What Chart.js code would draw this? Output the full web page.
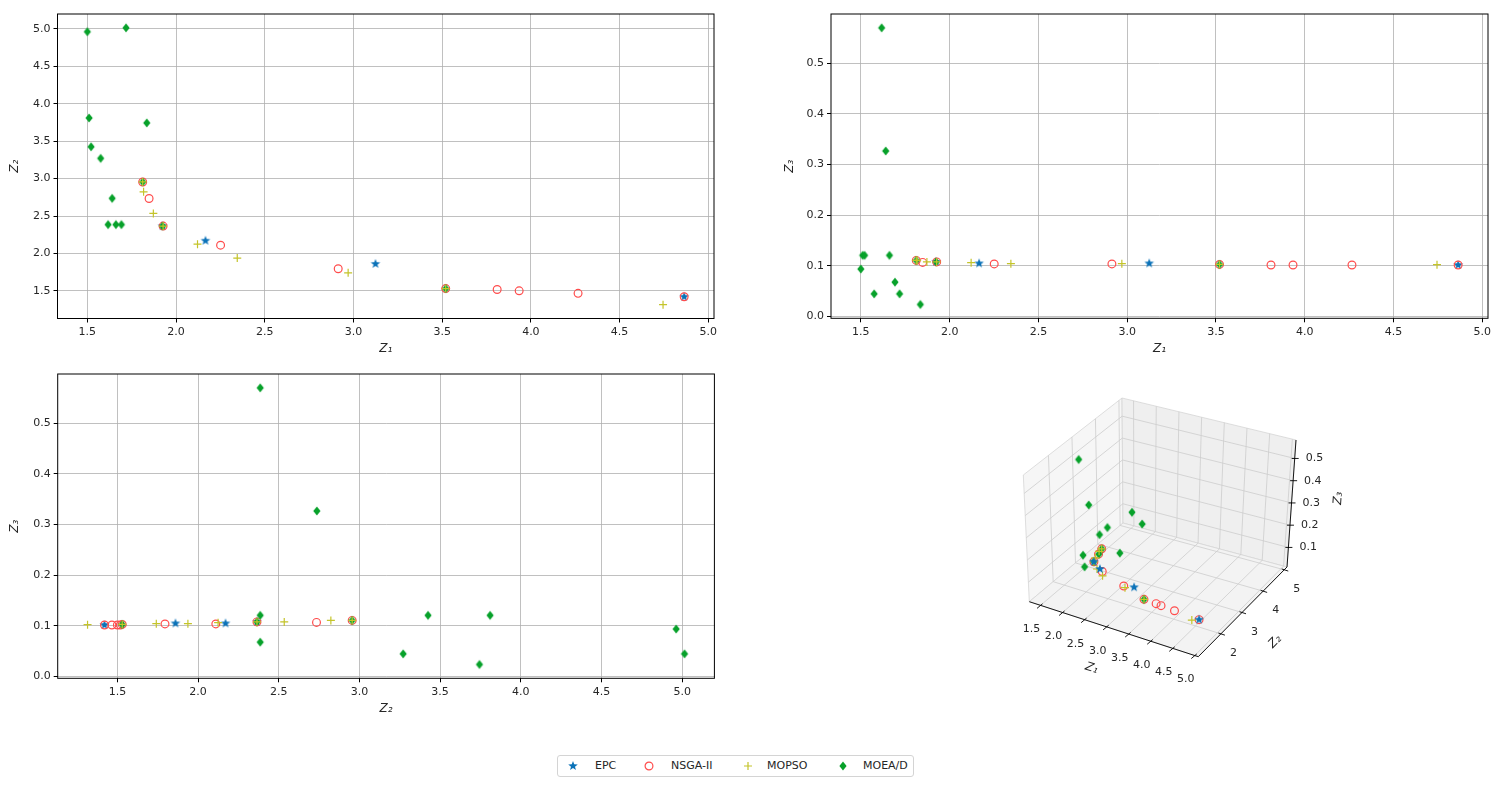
<!DOCTYPE html>
<html>
<head>
<meta charset="utf-8">
<script src="https://cdn.jsdelivr.net/npm/chart.js@4.4.0/dist/chart.umd.min.js"></script>
<style>
    body { margin: 0; background: #fff; width: 1499px; height: 788px; overflow: hidden; position: relative; font-family: "DejaVu Sans", sans-serif; }
    .pane { position: absolute; }
    #legend { position: absolute; left: 557px; top: 755px; width: 357px; height: 22px; border: 1px solid #d4d4d4; border-radius: 3px; box-sizing: border-box; }
    #legend canvas, #legend span { position: absolute; }
    #legend span { top: 3px; font-size: 11px; color: #262626; }
</style>
</head>
<body>
<div class="pane" style="left:0;top:0"><canvas id="c12" width="730" height="360"></canvas></div>
<div class="pane" style="left:760px;top:0"><canvas id="c13" width="739" height="360"></canvas></div>
<div class="pane" style="left:0;top:360px"><canvas id="c23" width="730" height="360"></canvas></div>
<div class="pane" style="left:990px;top:370px"><canvas id="c3d" width="380" height="340"></canvas></div>
<div id="legend"></div>
<script>
// objective values (Z1, Z2, Z3) of every solution, per algorithm
const seriesNames = ['EPC', 'NSGA-II', 'MOPSO', 'MOEA/D'];

const epcZ1 = [1.924, 2.166, 3.124, 4.864];
const epcZ2 = [2.365, 2.170, 1.860, 1.420];
const epcZ3 = [0.108, 0.105, 0.105, 0.102];

const nsgaZ1 = [1.812, 1.848, 1.927, 2.251, 2.914, 3.520, 3.810, 3.934, 4.266, 4.864];
const nsgaZ2 = [2.955, 2.734, 2.365, 2.110, 1.795, 1.530, 1.518, 1.500, 1.466, 1.420];
const nsgaZ3 = [0.111, 0.107, 0.108, 0.104, 0.104, 0.103, 0.102, 0.102, 0.102, 0.102];

const mopsoZ1 = [1.812, 1.817, 1.872, 1.927, 2.121, 2.345, 2.970, 3.520, 4.745];
const mopsoZ2 = [2.955, 2.823, 2.534, 2.365, 2.124, 1.937, 1.741, 1.530, 1.315];
const mopsoZ3 = [0.111, 0.111, 0.108, 0.108, 0.1065, 0.1045, 0.1045, 0.103, 0.1025];

const moeadZ1 = [1.500, 1.718, 1.510, 1.835, 1.521, 1.575, 1.640, 1.617, 1.661, 1.692, 1.812, 1.924, 3.520];
const moeadZ2 = [4.963, 5.015, 3.810, 3.744, 3.425, 3.271, 2.736, 2.385, 2.385, 2.385, 2.955, 2.365, 1.530];
const moeadZ3 = [0.094, 0.045, 0.121, 0.024, 0.121, 0.045, 0.327, 0.570, 0.121, 0.068, 0.111, 0.108, 0.103];

const z1Ticks = [1.5, 2.0, 2.5, 3.0, 3.5, 4.0, 4.5, 5.0];
const z2Ticks = [1.5, 2.0, 2.5, 3.0, 3.5, 4.0, 4.5, 5.0];
const z3Ticks = [0.0, 0.1, 0.2, 0.3, 0.4, 0.5];
const z2Ticks3d = [2, 3, 4, 5];
const z3Ticks3d = [0.1, 0.2, 0.3, 0.4, 0.5];

const allZ = [
    [epcZ1, epcZ2, epcZ3],
    [nsgaZ1, nsgaZ2, nsgaZ3],
    [mopsoZ1, mopsoZ2, mopsoZ3],
    [moeadZ1, moeadZ2, moeadZ3]
];

// ---- marker look ----
const looks = [
    { shape: 'star', color: '#0b72b8' },
    { shape: 'circle', color: '#ff4c4c' },
    { shape: 'plus', color: '#c4c42a' },
    { shape: 'diamond', color: '#07a12a' }
];

const drawMarker = (ctx, shape, color, x, y) => {
    ctx.save();
    ctx.fillStyle = color;
    ctx.strokeStyle = color;
    ctx.lineWidth = 1.2;
    ctx.beginPath();
    if (shape === 'star') {
        for (let i = 0; i < 10; i++) {
            const r = i % 2 === 0 ? 5 : 2.1;
            const a = -Math.PI / 2 + i * Math.PI / 5;
            ctx.lineTo(x + r * Math.cos(a), y + r * Math.sin(a));
        }
        ctx.closePath();
        ctx.fill();
    } else if (shape === 'diamond') {
        ctx.moveTo(x, y - 4.6);
        ctx.lineTo(x + 3.6, y);
        ctx.lineTo(x, y + 4.6);
        ctx.lineTo(x - 3.6, y);
        ctx.closePath();
        ctx.fill();
    } else if (shape === 'circle') {
        ctx.arc(x, y, 3.9, 0, Math.PI * 2);
        ctx.stroke();
    } else {
        ctx.moveTo(x - 4, y); ctx.lineTo(x + 4, y);
        ctx.moveTo(x, y - 4); ctx.lineTo(x, y + 4);
        ctx.stroke();
    }
    ctx.restore();
};

const markerImage = (shape, color) => {
    const c = document.createElement('canvas');
    c.width = 12; c.height = 12;
    drawMarker(c.getContext('2d'), shape, color, 6, 6);
    return c;
};

const pointStyleFor = (look) => {
    if (look.shape === 'circle') return { pointStyle: 'circle', pointRadius: 3.9, pointBorderWidth: 1.2, pointBackgroundColor: 'rgba(0,0,0,0)', pointBorderColor: look.color };
    if (look.shape === 'plus') return { pointStyle: 'cross', pointRadius: 4, pointBorderWidth: 1.2, pointBorderColor: look.color };
    return { pointStyle: markerImage(look.shape, look.color), pointRadius: 6 };
};

// ---- 2D panels ----
const limits = (idx) => {
    const vals = allZ.flatMap(s => s[idx]);
    const lo = Math.min(...vals), hi = Math.max(...vals);
    const m = (hi - lo) * 0.05;
    return [lo - m, hi + m];
};

const font = { family: 'DejaVu Sans', size: 11 };
const titleFont = { family: 'DejaVu Sans', size: 12, style: 'italic' };

const axis = (title, lim, ticks, isY, size, pad) => ({
    type: 'linear',
    min: lim[0],
    max: lim[1],
    afterBuildTicks: ax => { ax.ticks = ticks.map(v => ({ value: v })); },
    afterFit: ax => {
        if (isY) ax.width = size; else ax.height = size;
        ax.paddingLeft = ax.paddingRight = ax.paddingTop = ax.paddingBottom = 0;
    },
    grid: { color: '#b0b0b0', lineWidth: 0.8, tickColor: '#000', tickLength: 4, tickWidth: 1 },
    border: { display: false },
    ticks: { color: '#262626', font, padding: 3, maxRotation: 0, autoSkip: false, callback: v => v.toFixed(1) },
    title: { display: true, text: title, color: '#262626', font: titleFont, padding: pad }
});

const framePlugin = {
    id: 'frame',
    beforeDatasetsDraw(chart) {
        const { ctx, chartArea: a } = chart;
        ctx.save();
        ctx.strokeStyle = '#000';
        ctx.lineWidth = 1;
        ctx.strokeRect(a.left, a.top, a.right - a.left, a.bottom - a.top);
        ctx.restore();
    }
};

const order2d = [3, 2, 0, 1];

const makePanel = (id, xi, yi, xTitle, yTitle, xTicks, yTicks, layout) => {
    const datasets = allZ.map((s, k) => ({
        label: seriesNames[k],
        data: s[xi].map((v, j) => ({ x: v, y: s[yi][j] })),
        order: order2d[k],
        ...pointStyleFor(looks[k])
    }));
    return new Chart(document.getElementById(id), {
        type: 'scatter',
        data: { datasets },
        options: {
            responsive: false,
            animation: false,
            events: [],
            layout: { padding: layout.padding },
            plugins: { legend: { display: false }, tooltip: { enabled: false } },
            scales: {
                x: axis(xTitle, limits(xi), xTicks, false, layout.xh, { top: 0, bottom: 4 }),
                y: axis(yTitle, limits(yi), yTicks, true, layout.yw, { top: layout.yt, bottom: 0 })
            }
        },
        plugins: [framePlugin]
    });
};

makePanel('c12', 0, 1, 'Z\u2081', 'Z\u2082', z1Ticks, z2Ticks,
    { padding: { top: 14, right: 16, left: 0, bottom: 0 }, xh: 41.5, yw: 57.5, yt: 8 });
makePanel('c13', 0, 2, 'Z\u2081', 'Z\u2083', z1Ticks, z3Ticks,
    { padding: { top: 14, right: 11, left: 0, bottom: 0 }, xh: 41.7, yw: 71, yt: 23 });
makePanel('c23', 1, 2, 'Z\u2082', 'Z\u2083', z2Ticks, z3Ticks,
    { padding: { top: 14, right: 15.6, left: 0, bottom: 0 }, xh: 41.7, yw: 57.7, yt: 8 });

// ---- 3D panel: box corners on screen, trilinear mapping ----
const box3d = { z1: [1.245, 5.08], z2: [0.93, 5.13], z3: [0.012, 0.583] };
const corner = {
    c000: [39.3, 231.7], c100: [208.3, 286.7], c110: [297, 197], c010: [133, 153],
    c001: [33.3, 105], c101: [212.3, 158.7], c111: [306, 70], c011: [132, 28]
};

const mix = (a, b, t) => [a[0] + (b[0] - a[0]) * t, a[1] + (b[1] - a[1]) * t];
const toScreen = (u, v, w) => {
    const bot = mix(mix(corner.c000, corner.c100, u), mix(corner.c010, corner.c110, u), v);
    const top = mix(mix(corner.c001, corner.c101, u), mix(corner.c011, corner.c111, u), v);
    return mix(bot, top, w);
};
const norm = (val, r) => (val - r[0]) / (r[1] - r[0]);
const project = (a, b, c) => toScreen(norm(a, box3d.z1), norm(b, box3d.z2), norm(c, box3d.z3));

const line = (ctx, p, q) => { ctx.beginPath(); ctx.moveTo(p[0], p[1]); ctx.lineTo(q[0], q[1]); ctx.stroke(); };
const poly = (ctx, pts, fill) => {
    ctx.beginPath();
    pts.forEach((p, i) => i ? ctx.lineTo(p[0], p[1]) : ctx.moveTo(p[0], p[1]));
    ctx.closePath();
    ctx.fillStyle = fill;
    ctx.fill();
    ctx.stroke();
};

const axes3dPlugin = {
    id: 'axes3d',
    beforeDatasetsDraw(chart) {
        const ctx = chart.ctx;
        ctx.save();
        ctx.lineWidth = 0.8;
        ctx.strokeStyle = '#d6d6d6';
        // panes
        poly(ctx, [toScreen(0, 0, 0), toScreen(0, 1, 0), toScreen(0, 1, 1), toScreen(0, 0, 1)], '#f6f6f6');
        poly(ctx, [toScreen(0, 1, 0), toScreen(1, 1, 0), toScreen(1, 1, 1), toScreen(0, 1, 1)], '#efefef');
        poly(ctx, [toScreen(0, 0, 0), toScreen(1, 0, 0), toScreen(1, 1, 0), toScreen(0, 1, 0)], '#f3f3f3');
        // grid
        ctx.strokeStyle = '#cdcdcd';
        z1Ticks.forEach(t => {
            const u = norm(t, box3d.z1);
            line(ctx, toScreen(u, 0, 0), toScreen(u, 1, 0));
            line(ctx, toScreen(u, 1, 0), toScreen(u, 1, 1));
        });
        z2Ticks3d.forEach(t => {
            const v = norm(t, box3d.z2);
            line(ctx, toScreen(0, v, 0), toScreen(1, v, 0));
            line(ctx, toScreen(0, v, 0), toScreen(0, v, 1));
        });
        z3Ticks3d.forEach(t => {
            const w = norm(t, box3d.z3);
            line(ctx, toScreen(0, 0, w), toScreen(0, 1, w));
            line(ctx, toScreen(0, 1, w), toScreen(1, 1, w));
        });
        // axis lines
        ctx.strokeStyle = '#000';
        ctx.lineWidth = 0.9;
        line(ctx, toScreen(0, 0, 0), toScreen(1, 0, 0));
        line(ctx, toScreen(1, 0, 0), toScreen(1, 1, 0));
        line(ctx, toScreen(1, 1, 0), toScreen(1, 1, 1));
        // ticks and labels
        ctx.fillStyle = '#262626';
        ctx.font = '11px "DejaVu Sans"';
        ctx.textAlign = 'center';
        ctx.textBaseline = 'middle';
        z1Ticks.forEach(t => {
            const p = toScreen(norm(t, box3d.z1), 0, 0);
            line(ctx, [p[0] + 2, p[1] - 1.6], [p[0] - 3.5, p[1] + 3]);
            ctx.fillText(t.toFixed(1), p[0] - 9, p[1] + 24);
        });
        z2Ticks3d.forEach(t => {
            const p = toScreen(1, norm(t, box3d.z2), 0);
            line(ctx, [p[0] - 2.5, p[1] - 0.8], [p[0] + 4, p[1] + 1.3]);
            ctx.fillText(String(t), p[0] + 12.5, p[1] + 19.5);
        });
        ctx.textAlign = 'left';
        z3Ticks3d.forEach(t => {
            const p = toScreen(1, 1, norm(t, box3d.z3));
            line(ctx, [p[0] - 3, p[1]], [p[0] + 4, p[1]]);
            ctx.fillText(t.toFixed(1), p[0] + 11, p[1]);
        });
        // axis titles
        ctx.textAlign = 'center';
        ctx.font = 'italic 12px "DejaVu Sans"';
        [['Z\u2081', 101.7, 298.3, 0.31], ['Z\u2082', 285, 271.7, -0.79], ['Z\u2083', 348.3, 128.3, -1.5]].forEach(([txt, x, y, rot]) => {
            ctx.save();
            ctx.translate(x, y);
            ctx.rotate(rot);
            ctx.fillText(txt, 0, 0);
            ctx.restore();
        });
        ctx.restore();
    }
};

const order3d = [0, 3, 1, 2];
const c3d = document.getElementById('c3d');
new Chart(c3d, {
    type: 'scatter',
    data: {
        datasets: allZ.map((s, k) => ({
            label: seriesNames[k],
            data: s[0].map((v, j) => {
                const p = project(v, s[1][j], s[2][j]);
                return { x: p[0], y: p[1] };
            }),
            order: order3d[k],
            clip: false,
            ...pointStyleFor(looks[k])
        }))
    },
    options: {
        responsive: false,
        animation: false,
        events: [],
        layout: { padding: 0 },
        plugins: { legend: { display: false }, tooltip: { enabled: false } },
        scales: {
            x: { type: 'linear', display: false, min: 0, max: c3d.width },
            y: { type: 'linear', display: false, min: 0, max: c3d.height, reverse: true }
        }
    },
    plugins: [axes3dPlugin]
});

// ---- shared legend ----
const legend = document.getElementById('legend');
const legendX = [[15, 37], [91, 113], [190, 209], [285, 305]];
seriesNames.forEach((name, k) => {
    const mk = document.createElement('canvas');
    mk.width = 12; mk.height = 12;
    mk.style.left = (legendX[k][0] - 6) + 'px';
    mk.style.top = '4px';
    drawMarker(mk.getContext('2d'), looks[k].shape, looks[k].color, 6, 6);
    legend.appendChild(mk);
    const tx = document.createElement('span');
    tx.textContent = name;
    tx.style.left = legendX[k][1] + 'px';
    legend.appendChild(tx);
});
</script>
</body>
</html>
